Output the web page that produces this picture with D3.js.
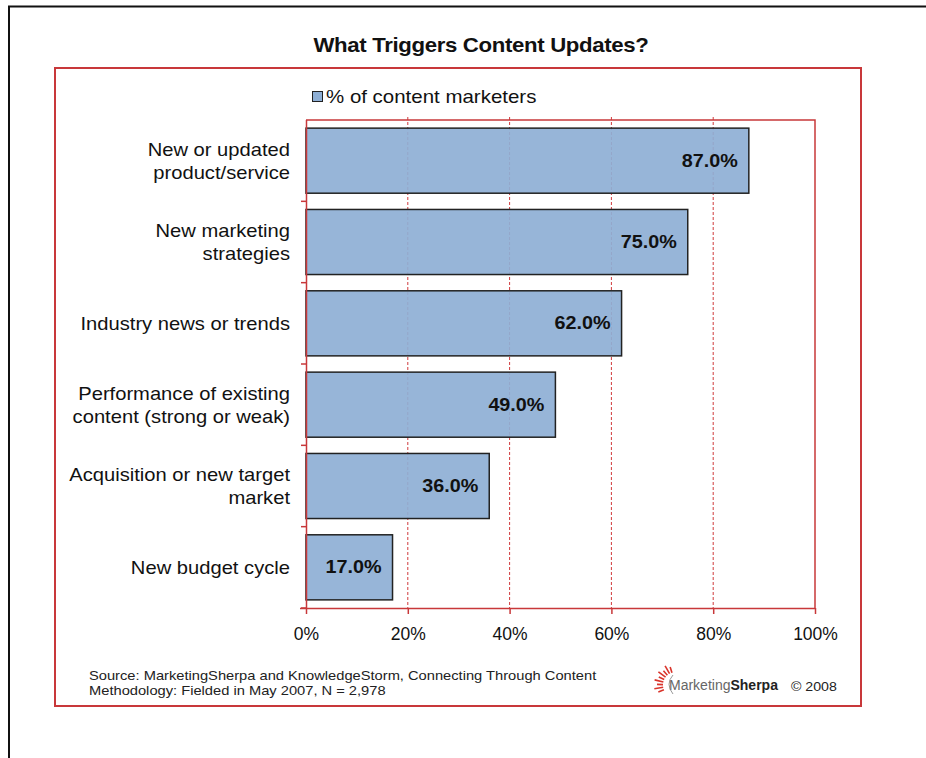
<!DOCTYPE html>
<html>
<head>
<meta charset="utf-8">
<script src="https://cdn.jsdelivr.net/npm/d3@7"></script>
<style>
  body { margin: 0; background: #fff; }
  svg { display: block; font-family: "Liberation Sans", Arial, sans-serif; }
</style>
</head>
<body>
<svg id="chart" width="926" height="758"></svg>
<script>
const categories = [
  'New or updated|product/service',
  'New marketing|strategies',
  'Industry news or trends',
  'Performance of existing|content (strong or weak)',
  'Acquisition or new target|market',
  'New budget cycle'
];
const values = [87.0, 75.0, 62.0, 49.0, 36.0, 17.0];
const xTicks = [0, 20, 40, 60, 80, 100];

const svg = d3.select('#chart');
const red = '#c8383a';

// text that is a bit wider than the font draws it, like the scanned original
function wideText(parent, x, y, sx, str) {
  return parent.append('text')
    .attr('transform', `translate(${x},${y}) scale(${sx},1)`)
    .text(str);
}

// outer frame (black) and red chart box
svg.append('path')
  .attr('d', 'M9,758 L9,6.5 L926,6.5')
  .attr('fill', 'none').attr('stroke', '#111').attr('stroke-width', 2);
svg.append('rect')
  .attr('x', 55).attr('y', 68).attr('width', 806).attr('height', 638)
  .attr('fill', 'none').attr('stroke', red).attr('stroke-width', 2);

wideText(svg, 481, 52, 1.11, 'What Triggers Content Updates?')
  .attr('text-anchor', 'middle')
  .style('font-weight', 'bold').style('font-size', '20px')
  .style('letter-spacing', '-0.3px')
  .attr('fill', '#111');

// legend
svg.append('rect')
  .attr('x', 312.5).attr('y', 91.5).attr('width', 10).attr('height', 10)
  .attr('fill', '#8eafd5').attr('stroke', '#222').attr('stroke-width', 1);
wideText(svg, 326, 103, 1.17, '% of content marketers')
  .style('font-size', '17.5px').attr('fill', '#111');

const margin = { top: 120, left: 306 };
const width = 509, height = 488;
const g = svg.append('g').attr('transform', `translate(${margin.left},${margin.top})`);

const x = d3.scaleLinear().domain([0, 100]).range([0, width]);
const y = d3.scaleBand().domain(categories).range([0, height]).paddingInner(0.2).paddingOuter(0.1);

// grid
g.append('g')
  .selectAll('line')
  .data(xTicks.slice(1, -1))
  .join('line')
  .attr('x1', d => x(d)).attr('x2', d => x(d))
  .attr('y1', -3).attr('y2', height)
  .attr('stroke', '#d03a3c').attr('stroke-width', 1)
  .attr('stroke-dasharray', '3,2');

// plot frame: top and right
g.append('path')
  .attr('d', `M0,0 H${width} V${height}`)
  .attr('fill', 'none').attr('stroke', red).attr('stroke-width', 1.5);

// bars
g.append('g')
  .selectAll('rect')
  .data(values)
  .join('rect')
  .attr('x', x(0))
  .attr('y', (d, i) => y(categories[i]))
  .attr('width', d => x(d))
  .attr('height', y.bandwidth())
  .attr('fill', '#8eafd5').attr('fill-opacity', 0.92)
  .attr('stroke', '#222').attr('stroke-width', 1.5);

// value labels
g.append('g')
  .selectAll('text')
  .data(values)
  .join('text')
  .attr('transform', (d, i) => `translate(${x(d) - 11},${y(categories[i]) + y.bandwidth() / 2 + 6}) scale(1.13,1)`)
  .attr('text-anchor', 'end')
  .style('font-weight', 'bold').style('font-size', '17.5px')
  .attr('fill', '#111')
  .text(d => d.toFixed(1) + '%');

// x axis
const xAxis = g.append('g')
  .attr('transform', `translate(0,${height})`)
  .call(d3.axisBottom(x).tickValues(xTicks).tickFormat(d => d + '%').tickSize(6).tickPadding(14));
xAxis.select('.domain').attr('stroke', red).attr('stroke-width', 1.5).attr('d', `M-6,0.5H${width}`);
xAxis.selectAll('.tick line').attr('stroke', red).attr('stroke-width', 1.5);
xAxis.selectAll('.tick text')
  .style('font-size', '17.5px').style('font-family', '"Liberation Sans", Arial, sans-serif')
  .attr('fill', '#111');

// y axis
const yAxis = g.append('g')
  .call(d3.axisLeft(y).tickSize(0).tickFormat(''));
yAxis.select('.domain').attr('stroke', red).attr('stroke-width', 1.5).attr('d', `M0.5,0V${height}`);
yAxis.selectAll('.tick').remove();

// boundary ticks between categories
const bounds = categories.map((c, i) => y(c) + y.bandwidth() + y.step() * y.paddingInner() / 2);
g.append('g')
  .selectAll('line')
  .data(bounds)
  .join('line')
  .attr('x1', -5).attr('x2', 0)
  .attr('y1', d => d).attr('y2', d => d)
  .attr('stroke', red).attr('stroke-width', 1.5);

// category labels
g.append('g')
  .selectAll('g')
  .data(categories)
  .join('g')
  .each(function (d) {
    const lines = d.split('|');
    const cy = y(d) + y.bandwidth() / 2;
    const lh = 23;
    lines.forEach((ln, k) => {
      wideText(d3.select(this), -16, cy + 6.5 + (k - (lines.length - 1) / 2) * lh, 1.12, ln)
        .attr('text-anchor', 'end')
        .style('font-size', '18px')
        .attr('fill', '#111');
    });
  });

// source note
wideText(svg, 89, 680, 1.13, 'Source: MarketingSherpa and KnowledgeStorm, Connecting Through Content')
  .style('font-size', '13px').attr('fill', '#222');
wideText(svg, 89, 695, 1.13, 'Methodology: Fielded in May 2007, N = 2,978')
  .style('font-size', '13px').attr('fill', '#222');

// logo
const logo = svg.append('g').attr('transform', 'translate(672,690)');
d3.range(9).forEach(i => {
  const a = Math.PI * (1.12 - i * 0.065);
  const r1 = 13, r2 = 19 + (i % 2) * 3;
  logo.append('line')
    .attr('x1', Math.cos(a) * r1 + 4).attr('y1', -Math.sin(a) * r1 - 5)
    .attr('x2', Math.cos(a) * r2 + 4).attr('y2', -Math.sin(a) * r2 - 5)
    .attr('stroke', '#d9342b').attr('stroke-width', 1.6);
});
logo.append('path')
  .attr('d', 'M1,-15 Q-7,-6 1,4')
  .attr('fill', 'none').attr('stroke', '#999').attr('stroke-width', 1);
wideText(logo, -3, 0, 1.0, 'Marketing')
  .style('font-size', '14px').attr('fill', '#666')
  .append('tspan').style('font-weight', 'bold').attr('fill', '#222').text('Sherpa');
wideText(svg, 791, 691, 1.05, '\u00a9 2008')
  .style('font-size', '13.5px').attr('fill', '#222');
</script>
</body>
</html>
